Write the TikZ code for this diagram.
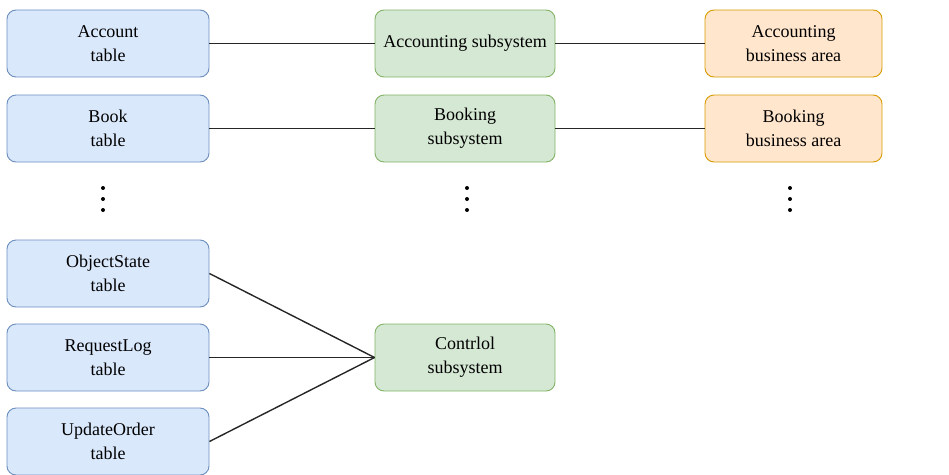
\documentclass[tikz,border=0pt]{standalone}
\usepackage{fontspec}
\setmainfont{Liberation Serif}
\begin{document}
\begin{tikzpicture}[x=1pt,y=-1pt,
  box/.style={rounded corners=9pt, line width=0.9pt, align=center,
    inner sep=0pt, minimum height=67pt,
    font=\fontsize{18}{24}\selectfont},
  tbl/.style={box, draw={rgb,255:red,108;green,142;blue,191}, fill={rgb,255:red,218;green,232;blue,252}, minimum width=202pt},
  sub/.style={box, draw={rgb,255:red,130;green,179;blue,102}, fill={rgb,255:red,213;green,232;blue,212}, minimum width=180pt},
  area/.style={box, draw={rgb,255:red,215;green,155;blue,0}, fill={rgb,255:red,255;green,230;blue,204}, minimum width=177pt},
  link/.style={line width=1.4pt, black!85},
  dot/.style={circle, fill=black, inner sep=0pt, minimum size=4pt}]
\useasboundingbox (0,0) rectangle (949,474);

% tables
\node[tbl] (acct)  at (108,43.5)  {Account\\table};
\node[tbl] (book)  at (108,128.5) {Book\\table};
\node[tbl] (objst) at (108,273.5) {ObjectState\\table};
\node[tbl] (reqlg) at (108,357.5) {RequestLog\\table};
\node[tbl] (updor) at (108,441.5) {UpdateOrder\\table};

% subsystems
\node[sub] (accsub)  at (465,43.5)  {Accounting subsystem};
\node[sub] (booksub) at (465,128.5) {Booking\\subsystem};
\node[sub] (ctrlsub) at (465,357.5) {Contrlol\\subsystem};

% business areas
\node[area] (accarea)  at (793.5,43.5)  {Accounting\\business area};
\node[area] (bookarea) at (793.5,128.5) {Booking\\business area};

% ellipsis dots
\foreach \cx/\nm in {103/l,467/m,790/r}{
  \node[dot] (\nm1) at (\cx,188) {};
  \node[dot] (\nm2) at (\cx,199) {};
  \node[dot] (\nm3) at (\cx,210) {};
}

% connectors
\draw[link] (acct) -- (accsub);
\draw[link] (accsub) -- (accarea);
\draw[link] (book) -- (booksub);
\draw[link] (booksub) -- (bookarea);
\draw[link] (objst.east) -- (ctrlsub.west);
\draw[link] (reqlg.east) -- (ctrlsub.west);
\draw[link] (updor.east) -- (ctrlsub.west);
\end{tikzpicture}
\end{document}
